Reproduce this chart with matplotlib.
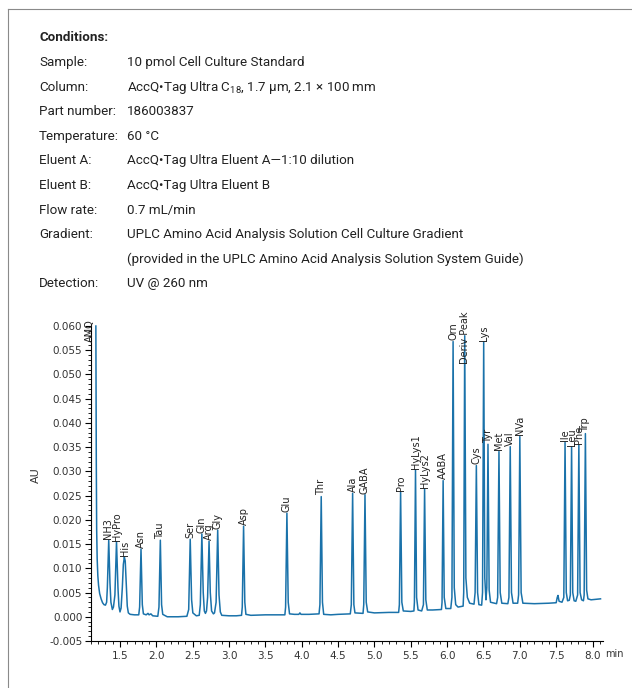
import numpy as np
import matplotlib
matplotlib.use('Agg')
import matplotlib.pyplot as plt
from matplotlib.ticker import MultipleLocator, FormatStrFormatter
from matplotlib.lines import Line2D

# conditions block
cond_keys = ['Sample:', 'Column:', 'Part number:', 'Temperature:', 'Eluent A:', 'Eluent B:',
             'Flow rate:', 'Gradient:', '', 'Detection:']
cond_values = ['10 pmol Cell Culture Standard',
               'AccQ•Tag Ultra C$\\mathregular{_{18}}$, 1.7 µm, 2.1 × 100 mm',
               '186003837',
               '60 °C',
               'AccQ•Tag Ultra Eluent A—1:10 dilution',
               'AccQ•Tag Ultra Eluent B',
               '0.7 mL/min',
               'UPLC Amino Acid Analysis Solution Cell Culture Gradient',
               '(provided in the UPLC Amino Acid Analysis Solution System Guide)',
               'UV @ 260 nm']

# labelled peaks (retention time in min, apex in AU)
peak_names = ['AMQ', 'NH3', 'HyPro', 'His', 'Asn', 'Tau', 'Ser', 'Gln', 'Arg', 'Gly', 'Asp',
              'Glu', 'Thr', 'Ala', 'GABA', 'Pro', 'HyLys1', 'HyLys2', 'AABA', 'Orn',
              'Deriv Peak', 'Cys', 'Lys', 'Tyr', 'Met', 'Val', 'NVa', 'Ile', 'Leu', 'Phe', 'Trp']
peak_rt = [1.168, 1.345, 1.452, 1.560, 1.789, 2.055, 2.466, 2.626, 2.725, 2.844, 3.200,
           3.796, 4.268, 4.700, 4.870, 5.360, 5.565, 5.690, 5.945, 6.082,
           6.242, 6.402, 6.503, 6.562, 6.713, 6.868, 7.000, 7.622, 7.712, 7.812, 7.902]
peak_au = [0.0600, 0.0158, 0.0155, 0.0123, 0.0140, 0.0158, 0.0160, 0.0171, 0.0156, 0.0179, 0.0187,
           0.0214, 0.0248, 0.0255, 0.0252, 0.0258, 0.0303, 0.0264, 0.0281, 0.0568,
           0.0580, 0.0312, 0.0567, 0.0356, 0.0341, 0.0351, 0.0372, 0.0360, 0.0351, 0.0355, 0.0378]

# trace points between the apexes (feet, valleys, baseline)
base_rt = [1.174, 1.179, 1.186, 1.195, 1.205, 1.220, 1.240, 1.260, 1.280, 1.300, 1.316, 1.326,
           1.362, 1.375, 1.395, 1.410, 1.430,
           1.472, 1.485, 1.500, 1.515, 1.532, 1.546,
           1.572, 1.585, 1.600, 1.615, 1.640, 1.700, 1.758, 1.770,
           1.807, 1.822, 1.860, 1.885, 1.900, 1.925, 1.950, 2.020, 2.036,
           2.072, 2.088, 2.150, 2.300, 2.420, 2.445,
           2.485, 2.502, 2.550, 2.590, 2.605,
           2.645, 2.660, 2.675, 2.690, 2.705,
           2.742, 2.760, 2.785, 2.800, 2.822,
           2.862, 2.880, 2.900, 3.000, 3.100, 3.172, 3.182,
           3.217, 3.232, 3.300, 3.500, 3.768, 3.778,
           3.814, 3.832, 3.900, 3.960, 3.975, 3.990, 4.100, 4.238, 4.250,
           4.285, 4.302, 4.400, 4.500, 4.668, 4.682,
           4.717, 4.732, 4.843, 4.853,
           4.887, 4.907, 5.000, 5.200, 5.333, 5.343,
           5.377, 5.397, 5.500, 5.543, 5.550,
           5.580, 5.600, 5.650, 5.674,
           5.707, 5.727, 5.800, 5.922, 5.930,
           5.960, 5.982, 6.050, 6.066,
           6.098, 6.118, 6.150, 6.220, 6.228,
           6.258, 6.278, 6.310, 6.370, 6.385,
           6.419, 6.437, 6.475, 6.487,
           6.518, 6.534, 6.546,
           6.578, 6.597, 6.680, 6.695,
           6.730, 6.752, 6.835, 6.850,
           6.885, 6.907, 6.970, 6.983,
           7.018, 7.042, 7.200, 7.400, 7.500, 7.515, 7.525, 7.540, 7.580, 7.605,
           7.639, 7.657, 7.680, 7.695,
           7.728, 7.747, 7.770, 7.795,
           7.829, 7.850, 7.875, 7.885,
           7.919, 7.937, 7.980, 8.050, 8.110]
base_au = [0.0320, 0.0180, 0.0120, 0.0085, 0.0065, 0.0048, 0.0037, 0.0029, 0.0025, 0.0024, 0.0030, 0.0060,
           0.0070, 0.0030, 0.0015, 0.0020, 0.0045,
           0.0060, 0.0022, 0.0010, 0.0018, 0.0060, 0.0108,
           0.0115, 0.0070, 0.0022, 0.0008, 0.0005, 0.0004, 0.0004, 0.0020,
           0.0025, 0.0006, 0.0004, 0.0007, 0.0004, 0.0006, 0.0002, 0.0001, 0.0020,
           0.0025, 0.0005, 0.0000, 0.0000, 0.0001, 0.0015,
           0.0035, 0.0008, 0.0002, 0.0003, 0.0025,
           0.0050, 0.0012, 0.0007, 0.0012, 0.0040,
           0.0050, 0.0012, 0.0006, 0.0008, 0.0030,
           0.0045, 0.0010, 0.0003, 0.0002, 0.0002, 0.0003, 0.0020,
           0.0030, 0.0005, 0.0003, 0.0004, 0.0004, 0.0020,
           0.0030, 0.0006, 0.0005, 0.0005, 0.0008, 0.0005, 0.0005, 0.0006, 0.0025,
           0.0030, 0.0005, 0.0004, 0.0005, 0.0006, 0.0025,
           0.0025, 0.0008, 0.0007, 0.0025,
           0.0030, 0.0010, 0.0008, 0.0009, 0.0009, 0.0025,
           0.0030, 0.0012, 0.0011, 0.0012, 0.0030,
           0.0040, 0.0014, 0.0012, 0.0025,
           0.0035, 0.0014, 0.0014, 0.0015, 0.0030,
           0.0040, 0.0017, 0.0017, 0.0040,
           0.0060, 0.0025, 0.0020, 0.0022, 0.0050,
           0.0080, 0.0040, 0.0028, 0.0026, 0.0050,
           0.0050, 0.0025, 0.0024, 0.0050,
           0.0080, 0.0035, 0.0060,
           0.0055, 0.0030, 0.0027, 0.0040,
           0.0050, 0.0028, 0.0027, 0.0040,
           0.0050, 0.0028, 0.0028, 0.0045,
           0.0050, 0.0028, 0.0027, 0.0028, 0.0029, 0.0040, 0.0044, 0.0032, 0.0030, 0.0040,
           0.0050, 0.0033, 0.0034, 0.0045,
           0.0050, 0.0033, 0.0032, 0.0045,
           0.0050, 0.0035, 0.0033, 0.0045,
           0.0055, 0.0037, 0.0035, 0.0036, 0.0037]

LINE = '#1a72aa'
W, H = 632, 688

plt.rcParams['axes.unicode_minus'] = False
plt.rcParams['mathtext.fontset'] = 'custom'
plt.rcParams['mathtext.rm'] = 'Roboto'

fig = plt.figure(figsize=(W / 100, H / 100), dpi=100)

# open frame round the panel
fig.add_artist(Line2D([8 / W, 8 / W], [0, 1 - 9 / H], color='#8a8a8a', lw=0.8, transform=fig.transFigure))
fig.add_artist(Line2D([8 / W, 1], [1 - 9 / H, 1 - 9 / H], color='#8a8a8a', lw=0.8, transform=fig.transFigure))

cond_font = dict(family='Roboto', size=9.6, color='#222222')
fig.text(39 / W, 1 - 40.7 / H, 'Conditions:', fontweight='bold', va='baseline', **cond_font)
for i, (k, v) in enumerate(zip(cond_keys, cond_values)):
    y = 1 - (66.0 + 24.6 * i) / H
    fig.text(39 / W, y, k, va='baseline', **cond_font)
    fig.text(127 / W, y, v, va='baseline', **cond_font)

# chromatogram
ax = fig.add_axes([90.7 / W, 47 / H, 512 / W, 317.4 / H])
t = np.concatenate([peak_rt, base_rt])
a = np.concatenate([peak_au, base_au])
order = np.argsort(t)
ax.plot(t[order], a[order], color=LINE, lw=1.1, solid_joinstyle='round')

ax.set_xlim(1.097, 8.14)
ax.set_ylim(-0.005, 0.0605)
for side in ['top', 'right']:
    ax.spines[side].set_visible(False)
ax.spines['left'].set_linewidth(0.8)
ax.spines['bottom'].set_linewidth(0.8)

ax.set_xticks(np.arange(1.5, 8.01, 0.5))
ax.set_yticks(np.arange(-0.005, 0.0601, 0.005))
ax.xaxis.set_minor_locator(MultipleLocator(0.1))
ax.yaxis.set_minor_locator(MultipleLocator(0.001))
ax.xaxis.set_major_formatter(FormatStrFormatter('%.1f'))
ax.yaxis.set_major_formatter(FormatStrFormatter('%.3f'))
ax.tick_params(which='major', length=4, width=0.8, labelsize=7.5, labelcolor='#333333')
ax.tick_params(which='minor', length=2.2, width=0.6)
ax.tick_params(axis='x', pad=3)
ax.tick_params(axis='y', pad=2)

ax.text(-0.107, 0.523, 'AU', transform=ax.transAxes, rotation=90, ha='center', va='center',
        fontsize=8, color='#333333')
ax.annotate('min', xy=(1, 0), xycoords='axes fraction', xytext=(2, -5.5), textcoords='offset points',
            ha='left', va='top', fontsize=7, color='#333333')

# labels sit on the apex, except where they hit the top of the panel
label_y = {'AMQ': 0.0565, 'Deriv Peak': 0.0520}
label_dx = {'AMQ': -4.3, 'NH3': -0.5, 'His': 0.8}
for name, rt, au in zip(peak_names, peak_rt, peak_au):
    ax.annotate(name, xy=(rt, label_y.get(name, au)), xytext=(label_dx.get(name, 0), 0.8),
                textcoords='offset points', rotation=90, ha='center', va='bottom',
                fontsize=7, color='#222222')

fig.savefig('out.png', dpi=100)
